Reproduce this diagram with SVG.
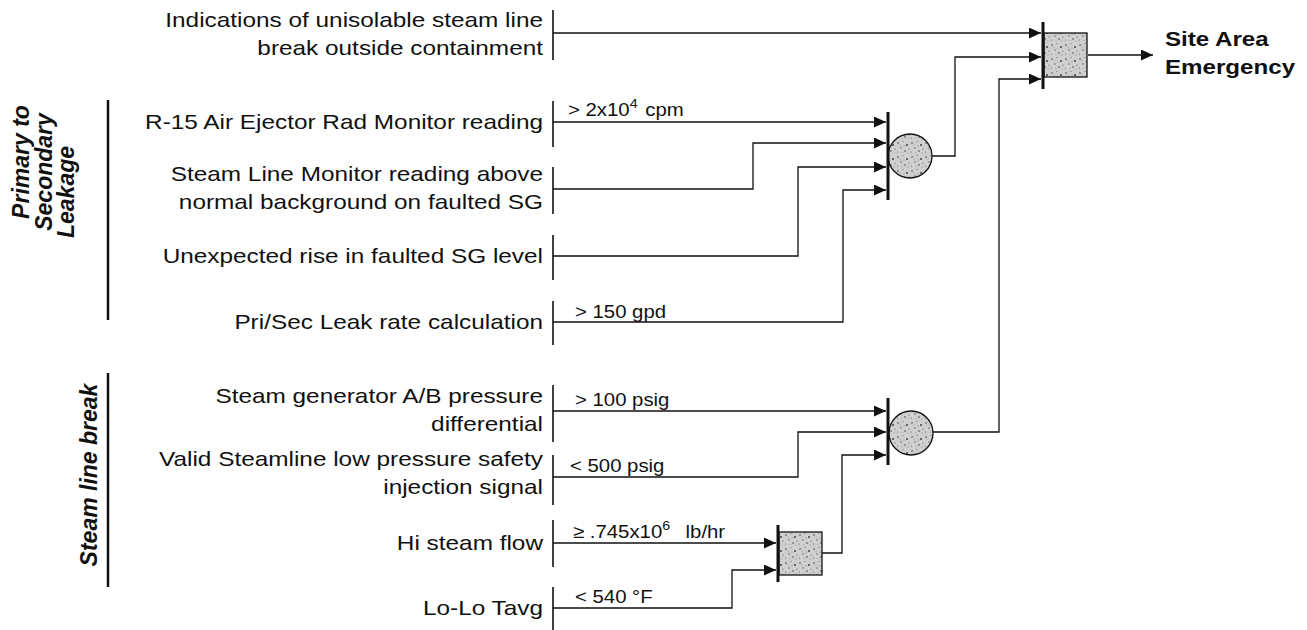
<svg xmlns="http://www.w3.org/2000/svg" width="1307" height="630" viewBox="0 0 1307 630">
<style>
  .lbl { font-family: "Liberation Sans", Arial, sans-serif; font-size: 21px; fill: #111; }
  .cond { font-family: "Liberation Sans", Arial, sans-serif; font-size: 18.5px; fill: #111; }
  .grp { font-family: "Liberation Sans", Arial, sans-serif; font-size: 23px; font-weight: bold; font-style: italic; fill: #111; }
  .out { font-family: "Liberation Sans", Arial, sans-serif; font-size: 21px; font-weight: bold; fill: #111; }
  .wa { fill: none; stroke: #111; stroke-width: 1.3; marker-end: url(#ah); }
  .inbar { stroke: #111; stroke-width: 1.6; }
  .gbar { stroke: #111; stroke-width: 3; }
  .gate { fill: url(#speckle); stroke: #111; stroke-width: 1.3; }
  .sbar { stroke: #111; stroke-width: 2.5; }
</style>
<defs>
  <marker id="ah" markerWidth="12" markerHeight="11" refX="12" refY="5.5" orient="auto" markerUnits="userSpaceOnUse">
    <path d="M0,0 L12,5.5 L0,11 z" fill="#111"/>
  </marker>
  <pattern id="speckle" width="14" height="14" patternUnits="userSpaceOnUse">
    <rect width="14" height="14" fill="#cfcfcf"/>
    <circle cx="2" cy="3" r="0.8" fill="#444"/>
    <circle cx="7" cy="1.5" r="0.6" fill="#666"/>
    <circle cx="11" cy="5" r="0.9" fill="#333"/>
    <circle cx="5" cy="8" r="0.7" fill="#555"/>
    <circle cx="9" cy="11" r="0.8" fill="#444"/>
    <circle cx="1.5" cy="12" r="0.6" fill="#666"/>
    <circle cx="13" cy="9" r="0.6" fill="#555"/>
    <circle cx="4" cy="5" r="0.5" fill="#888"/>
    <circle cx="12" cy="13" r="0.5" fill="#888"/>
    <circle cx="8" cy="6" r="0.5" fill="#777"/>
    <circle cx="6" cy="12.5" r="0.5" fill="#999"/>
    <circle cx="10.5" cy="8.5" r="0.4" fill="#fff"/>
    <circle cx="3" cy="10" r="0.4" fill="#fff"/>
  </pattern>
</defs>
<rect width="1307" height="630" fill="#fff"/>

<!-- group labels -->
<g id="group-primary">
  <line class="sbar" x1="108" y1="100" x2="108" y2="320"/>
  <text class="grp" text-anchor="middle" transform="translate(29,162) rotate(-90)">Primary to</text>
  <text class="grp" text-anchor="middle" transform="translate(52,172) rotate(-90)">Secondary</text>
  <text class="grp" text-anchor="middle" transform="translate(74,192) rotate(-90)">Leakage</text>
</g>
<g id="group-steamline">
  <line class="sbar" x1="108" y1="373" x2="108" y2="587"/>
  <text class="grp" text-anchor="middle" transform="translate(97,475) rotate(-90)">Steam line break</text>
</g>

<!-- input nodes -->
<g id="in-indications">
  <line class="inbar" x1="553" y1="10" x2="553" y2="60"/>
  <text class="lbl" text-anchor="end" transform="translate(543,27) scale(1.16,1)">Indications of unisolable steam line</text>
  <text class="lbl" text-anchor="end" transform="translate(543,55) scale(1.16,1)">break outside containment</text>
</g>
<g id="in-r15">
  <line class="inbar" x1="553" y1="101" x2="553" y2="147"/>
  <text class="lbl" text-anchor="end" transform="translate(543,129) scale(1.16,1)">R-15 Air Ejector Rad Monitor reading</text>
</g>
<g id="in-slm">
  <line class="inbar" x1="553" y1="167" x2="553" y2="214"/>
  <text class="lbl" text-anchor="end" transform="translate(543,181) scale(1.16,1)">Steam Line Monitor reading above</text>
  <text class="lbl" text-anchor="end" transform="translate(543,209) scale(1.16,1)">normal background on faulted SG</text>
</g>
<g id="in-sglevel">
  <line class="inbar" x1="553" y1="235" x2="553" y2="280"/>
  <text class="lbl" text-anchor="end" transform="translate(543,263) scale(1.16,1)">Unexpected rise in faulted SG level</text>
</g>
<g id="in-leakrate">
  <line class="inbar" x1="553" y1="301" x2="553" y2="345"/>
  <text class="lbl" text-anchor="end" transform="translate(543,329) scale(1.16,1)">Pri/Sec Leak rate calculation</text>
</g>
<g id="in-sgdp">
  <line class="inbar" x1="553" y1="385" x2="553" y2="442"/>
  <text class="lbl" text-anchor="end" transform="translate(543,403) scale(1.16,1)">Steam generator A/B pressure</text>
  <text class="lbl" text-anchor="end" transform="translate(543,431) scale(1.16,1)">differential</text>
</g>
<g id="in-sisignal">
  <line class="inbar" x1="553" y1="455" x2="553" y2="505"/>
  <text class="lbl" text-anchor="end" transform="translate(543,466) scale(1.16,1)">Valid Steamline low pressure safety</text>
  <text class="lbl" text-anchor="end" transform="translate(543,494) scale(1.16,1)">injection signal</text>
</g>
<g id="in-steamflow">
  <line class="inbar" x1="553" y1="520" x2="553" y2="567"/>
  <text class="lbl" text-anchor="end" transform="translate(543,550) scale(1.16,1)">Hi steam flow</text>
</g>
<g id="in-tavg">
  <line class="inbar" x1="553" y1="587" x2="553" y2="630"/>
  <text class="lbl" text-anchor="end" transform="translate(543,615) scale(1.16,1)">Lo-Lo Tavg</text>
</g>

<!-- connectors -->
<g id="connectors">
  <path class="wa" d="M553,33 H1041"/>
  <path class="wa" d="M932,156 H955 V57 H1041"/>
  <path class="wa" d="M933,432 H999 V79 H1041"/>
  <path class="wa" d="M1088,55 H1153"/>
  <path class="wa" d="M553,122 H886"/>
  <path class="wa" d="M553,189 H753 V143 H886"/>
  <path class="wa" d="M553,256 H798 V167 H886"/>
  <path class="wa" d="M553,322 H843 V190 H886"/>
  <path class="wa" d="M553,411 H886"/>
  <path class="wa" d="M553,477 H798 V432 H886"/>
  <path class="wa" d="M822,553 H842 V455 H886"/>
  <path class="wa" d="M553,543 H776"/>
  <path class="wa" d="M553,608 H732 V570 H776"/>
</g>

<!-- condition labels -->
<g id="conditions">
  <text class="cond" transform="translate(568,116) scale(1.1,1)">&gt; 2x10<tspan dy="-8" font-size="13">4</tspan><tspan dy="8" dx="7">cpm</tspan></text>
  <text class="cond" transform="translate(575,318) scale(1.1,1)">&gt; 150 gpd</text>
  <text class="cond" transform="translate(575,406) scale(1.1,1)">&gt; 100 psig</text>
  <text class="cond" transform="translate(570,472) scale(1.1,1)">&lt; 500 psig</text>
  <text class="cond" transform="translate(573,538) scale(1.1,1)">≥ .745x10<tspan dy="-8" font-size="13">6</tspan><tspan dy="8" dx="14">lb/hr</tspan></text>
  <text class="cond" transform="translate(575,603) scale(1.1,1)">&lt; 540 °F</text>
</g>

<!-- logic gates -->
<g id="gate-sae">
  <rect class="gate" x="1044" y="33" width="43" height="44"/>
  <line class="gbar" x1="1043" y1="22" x2="1043" y2="89"/>
</g>
<g id="gate-p2s">
  <circle class="gate" cx="910" cy="156" r="22"/>
  <line class="gbar" x1="888" y1="112" x2="888" y2="200"/>
</g>
<g id="gate-slb">
  <circle class="gate" cx="911" cy="433" r="22"/>
  <line class="gbar" x1="888" y1="398" x2="888" y2="465"/>
</g>
<g id="gate-flow">
  <rect class="gate" x="779" y="532" width="43" height="43"/>
  <line class="gbar" x1="778" y1="525" x2="778" y2="582"/>
</g>

<g id="out-sae">
  <text class="out" transform="translate(1165,46) scale(1.15,1)">Site Area</text>
  <text class="out" transform="translate(1165,74) scale(1.15,1)">Emergency</text>
</g>
</svg>
